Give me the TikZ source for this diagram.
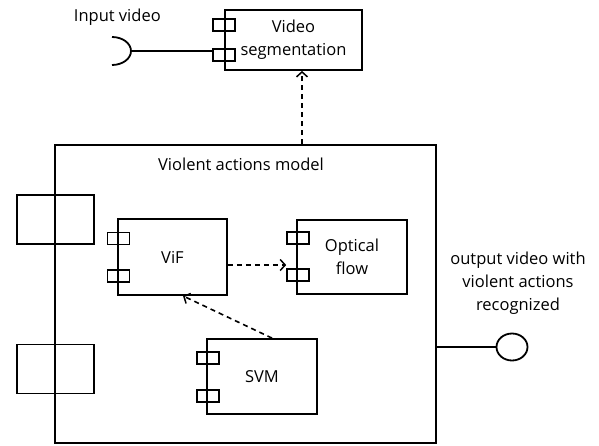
\documentclass[tikz,border=0pt]{standalone}
\usepackage{fontspec}
\setmainfont{Open Sans}
\usetikzlibrary{arrows.meta,shapes.geometric}
\begin{document}
\begin{tikzpicture}[x=1pt,y=-1pt,
  line width=1.8pt,
  box/.style={draw, rectangle, inner sep=0pt, align=center, font=\fontsize{16.5}{23}\selectfont},
  port/.style={draw, rectangle, inner sep=0pt, minimum width=22pt, minimum height=12pt, line width=1.6pt},
  bigport/.style={draw, rectangle, inner sep=0pt, minimum width=77pt, minimum height=49pt},
  dep/.style={dash pattern=on 5pt off 4pt, line width=1.6pt, -{Straight Barb[length=5pt,width=11pt,line width=1.5pt]}},
  lbl/.style={font=\fontsize{16.5}{23}\selectfont, align=center, inner sep=0pt}]
\useasboundingbox (0,0) rectangle (599,445);
% main box
\node[box, minimum width=381pt, minimum height=298pt] (main) at (245.5,294) {};
\node[lbl] (mainlbl) at (241,164) {Violent actions model};
\node[bigport] (lp1) at (55.5,219.5) {};
\node[bigport] (lp2) at (55.5,369) {};
% video segmentation
\node[box, minimum width=137pt, minimum height=60pt] (vs) at (293.5,40) {Video\\segmentation};
\node[port] (vsp1) at (224,25) {};
\node[port] (vsp2) at (224,55) {};
\node[lbl, anchor=west] (inlbl) at (73,17) {Input video};
\coordinate (sock) at (131,51);
\draw (112,37) arc[start angle=90, end angle=-90, x radius=19pt, y radius=14pt];
\draw (sock) -- (sock -| vsp2.west);
% ViF
\node[box, minimum width=109pt, minimum height=76pt] (vif) at (172.5,257) {ViF};
\node[port] (vifp1) at (118.5,238.5) {};
\node[port] (vifp2) at (118.5,276) {};
% Optical flow
\node[box, minimum width=110pt, minimum height=74pt] (of) at (352,257) {Optical\\flow};
\node[port] (ofp1) at (298,238) {};
\node[port] (ofp2) at (298,275) {};
% SVM
\node[box, minimum width=110pt, minimum height=75pt] (svm) at (262,376.5) {SVM};
\node[port] (svmp1) at (208,358) {};
\node[port] (svmp2) at (208,396) {};
% output
\node[draw, ellipse, inner sep=0pt, minimum width=31pt, minimum height=27pt] (out) at (512,347) {};
\node[lbl] (outlbl) at (518,283) {output video with\\violent actions\\recognized};
\draw (main.east |- out) -- (out.west);
% dependencies
\coordinate (ax) at (302,0);
\draw[dep] (main.north -| ax) -- (vs.south -| ax);
\coordinate (vy) at (0,265);
\draw[dep] (vif.east |- vy) -- (ofp2.west |- vy);
\draw[dep] ([xshift=10pt]svm.north) -- ([xshift=10.5pt]vif.south);
\end{tikzpicture}
\end{document}
